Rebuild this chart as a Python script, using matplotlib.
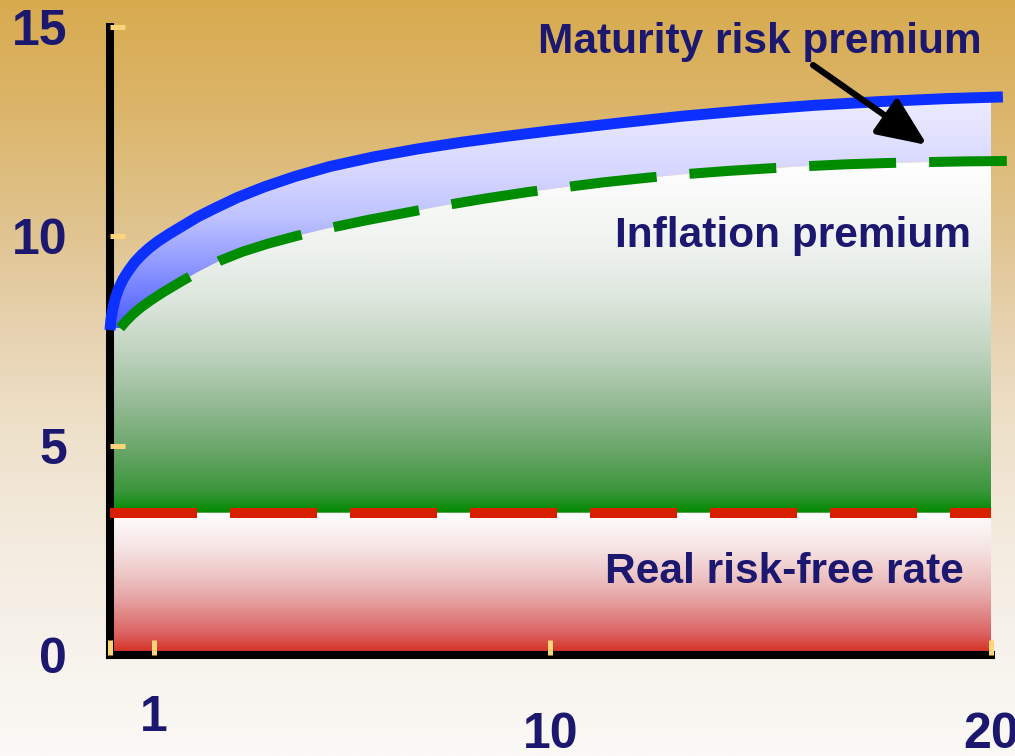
import numpy as np
import matplotlib.pyplot as plt
from matplotlib.colors import LinearSegmentedColormap
from matplotlib.patches import Polygon, ArrowStyle

plt.rcParams['font.family'] = ['Liberation Sans', 'DejaVu Sans']
plt.rcParams['font.weight'] = 'bold'

# total yield (real + inflation + maturity risk premium), by years to maturity
total_x = [0.00, 0.02, 0.06, 0.12, 0.20, 0.30, 0.42, 0.56, 0.72, 0.90, 1.10, 1.35,
           1.65, 2.00, 2.40, 2.90, 3.50, 4.20, 5.00, 6.00, 7.00, 8.00, 9.00, 10.00,
           11.50, 13.00, 14.50, 16.00, 17.50, 19.00, 20.27]
total_y = [7.76, 8.00, 8.25, 8.52, 8.76, 8.98, 9.18, 9.38, 9.56, 9.73, 9.89, 10.06,
           10.25, 10.47, 10.68, 10.93, 11.18, 11.43, 11.67, 11.90, 12.09, 12.25, 12.39, 12.52,
           12.70, 12.87, 13.01, 13.13, 13.22, 13.29, 13.33]

# real rate + inflation premium
infl_x = [0.23, 0.35, 0.52, 0.70, 0.91, 1.20, 1.63, 2.00, 2.50, 3.00, 3.60, 4.20,
          4.90, 5.80, 6.80, 7.60, 8.50, 9.50, 10.30, 11.20, 12.20, 13.00, 14.00,
          14.90, 15.70, 16.70, 17.60, 18.40, 19.40, 20.36]
infl_y = [7.81, 7.96, 8.14, 8.30, 8.46, 8.66, 8.93, 9.15, 9.42, 9.63, 9.83, 10.00,
          10.18, 10.38, 10.58, 10.74, 10.90, 11.06, 11.17, 11.29, 11.40, 11.48, 11.56,
          11.62, 11.67, 11.72, 11.75, 11.77, 11.79, 11.80]

real_rate = 3.4
x_end = 20

x_ticks = [0, 1, 10, 20]
x_tick_labels = ['', '1', '10', '20']
y_ticks = [0, 5, 10, 15]
y_tick_labels = ['0', '5', '10', '15']

NAVY = '#1c1870'


def gradient_fill(ax, verts, stops, y0, y1):
    poly = Polygon(verts, closed=True, facecolor='none', edgecolor='none')
    ax.add_patch(poly)
    cmap = LinearSegmentedColormap.from_list('g', stops)
    im = ax.imshow(np.linspace(0, 1, 256).reshape(-1, 1), extent=[0, 21, y0, y1],
                   origin='lower', aspect='auto', cmap=cmap, zorder=1,
                   interpolation='bilinear')
    im.set_clip_path(poly)


fig = plt.figure(figsize=(10.15, 7.56), dpi=100)

# background wash
bg = fig.add_axes([0, 0, 1, 1], zorder=-1)
bg_cmap = LinearSegmentedColormap.from_list('bg', [
    (0.0, '#d8ab4f'), (0.13, '#dbb467'), (0.30, '#e0c48f'), (0.44, '#e7d3b1'),
    (0.58, '#efe2cc'), (0.73, '#f4ece0'), (0.86, '#f7f3ec'), (1.0, '#fbf9f6')])
bg.imshow(np.linspace(0, 1, 256).reshape(-1, 1), aspect='auto', cmap=bg_cmap,
          extent=[0, 1, 0, 1], origin='upper', interpolation='bilinear')
bg.axis('off')

ax = fig.add_axes([0.10837, 0.13360, 0.86798, 0.83069])
ax.set_facecolor('none')

# maturity risk premium band
band = list(zip(total_x, total_y)) + list(zip(infl_x, infl_y))[::-1]
gradient_fill(ax, band, [(0.0, '#4656ff'), (0.14, '#6a78ff'), (0.32, '#98a0ff'),
                         (0.49, '#c0c4ff'), (0.67, '#d6d6ff'), (0.84, '#e3e3ff'),
                         (1.0, '#ececff')], 7.7, 13.4)

# inflation premium
infl_area = [(0, real_rate), (0, infl_y[0])] + list(zip(infl_x, infl_y)) + [(infl_x[-1], real_rate)]
gradient_fill(ax, infl_area, [(0.0, '#008a00'), (0.06, '#3a963a'), (0.18, '#6aa66a'),
                              (0.32, '#98bc98'), (0.46, '#c0d4c0'), (0.60, '#dce6dc'),
                              (0.75, '#eef2ee'), (1.0, '#ffffff')], real_rate, 11.8)

# real risk-free rate
real_area = [(0, 0), (0, real_rate), (x_end, real_rate), (x_end, 0)]
gradient_fill(ax, real_area, [(0.0, '#d42a1a'), (0.15, '#dc6262'), (0.38, '#e6a0a0'),
                              (0.55, '#eec4c4'), (0.75, '#f6e4e4'), (1.0, '#ffffff')],
              0, real_rate)

ax.plot([0, x_end], [real_rate, real_rate], color='#d82000', lw=7.2,
        linestyle=(0, (8.7, 3.3)), zorder=3.5)
ax.plot(infl_x, infl_y, color='#008c00', lw=7.2, linestyle=(0, (8.7, 3.3)),
        zorder=3.6, clip_on=False)
ax.plot(total_x, total_y, color='#0b30ff', lw=7.9, solid_capstyle='butt',
        solid_joinstyle='round', zorder=3.7, clip_on=False)

ax.set_xlim(0, x_end)
ax.set_ylim(0, 15)

for s in ['top', 'right']:
    ax.spines[s].set_visible(False)
for s in ['left', 'bottom']:
    ax.spines[s].set_linewidth(5.8)
    ax.spines[s].set_color('black')
    ax.spines[s].set_zorder(3)

ax.set_xticks(x_ticks)
ax.set_xticklabels(x_tick_labels)
ax.set_yticks(y_ticks)
ax.set_yticklabels(y_tick_labels)
ax.tick_params(direction='in', length=10.8, width=3.6, color='#ffd57a',
               labelsize=36, labelcolor=NAVY)
ax.tick_params(axis='y', pad=31)
ax.xaxis.set_zorder(4)
ax.yaxis.set_zorder(4)
for i, t in enumerate(ax.xaxis.get_major_ticks()):
    t.set_pad(29 if i == 1 else 41)
ax.yaxis.get_major_ticks()[0].tick1line.set_visible(False)

ax.text(14.76, 14.38, 'Maturity risk premium', ha='center', va='baseline',
        fontsize=30.5, color=NAVY, fontweight='bold', zorder=5)
ax.text(15.5, 9.74, 'Inflation premium', ha='center', va='baseline',
        fontsize=30.5, color=NAVY, fontweight='bold', zorder=5)
ax.text(15.32, 1.72, 'Real risk-free rate', ha='center', va='baseline',
        fontsize=30.5, color=NAVY, fontweight='bold', zorder=5)

ax.annotate('', xy=(18.55, 12.18), xytext=(15.96, 14.09),
            arrowprops=dict(arrowstyle=ArrowStyle('-|>', head_length=1.5, head_width=0.65),
                            mutation_scale=20, lw=4.5, color='black',
                            shrinkA=0, shrinkB=0), zorder=5)

fig.savefig('out.png', dpi=100)
